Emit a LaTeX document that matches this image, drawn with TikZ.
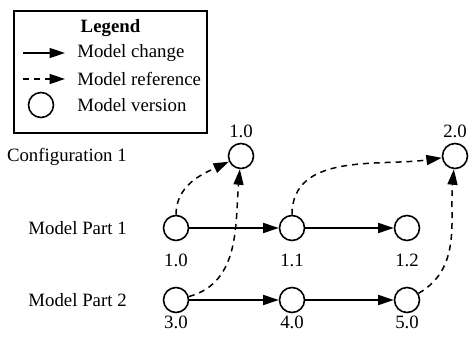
\documentclass[tikz,border=0pt]{standalone}
\usepackage{fontspec}
\setmainfont{Liberation Serif}
\usetikzlibrary{arrows.meta}

\tikzset{
  version/.style={draw, circle, line width=0.9pt, minimum size=0.5cm, inner sep=0pt},
  txt/.style={inner sep=0pt, font=\fontsize{10.7}{13}\selectfont},
  change/.style={line width=0.85pt, -{Triangle[length=0.31cm,width=0.2cm]}},
  reference/.style={change, dash pattern=on 3.4pt off 2.8pt},
}

\begin{document}
\begin{tikzpicture}

  \useasboundingbox (0,0) rectangle (9.38,6.78);

  % Legend.
  \node[draw, line width=0.8pt, minimum width=3.86cm, minimum height=2.44cm, inner sep=0pt] (legend) at (2.21,5.34) {};
  \node[txt, font=\fontsize{10.7}{13}\selectfont\bfseries] (legtitle) at (2.21,6.22) {Legend};
  \coordinate (chgA) at (0.46,5.72);
  \coordinate (chgB) at (1.30,5.72);
  \draw[change] (chgA) -- (chgB);
  \node[txt, anchor=west] (legchg) at (1.54,5.72) {Model change};
  \coordinate (refA) at (0.46,5.20);
  \coordinate (refB) at (1.30,5.20);
  \draw[reference] (refA) -- (refB);
  \node[txt, anchor=west] (legref) at (1.54,5.20) {Model reference};
  \node[version] (legver) at (0.82,4.68) {};
  \node[txt, anchor=west] (legvertxt) at (1.54,4.68) {Model version};

  % Row labels.
  \node[txt, anchor=east] (rowcfg) at (2.54,3.64) {Configuration 1};
  \node[txt, anchor=east] (rowpa) at (2.54,2.22) {Model Part 1};
  \node[txt, anchor=east] (rowpb) at (2.54,0.78) {Model Part 2};

  % Configuration versions.
  \node[version] (c10) at (4.82,3.66) {};
  \node[txt] (lc10) at (4.82,4.16) {1.0};
  \node[version] (c20) at (9.10,3.66) {};
  \node[txt] (lc20) at (9.10,4.16) {2.0};

  % Model Part 1.
  \node[version] (p10) at (3.52,2.22) {};
  \node[version] (p11) at (5.84,2.22) {};
  \node[version] (p12) at (8.14,2.22) {};
  \node[txt] (lp10) at (3.52,1.58) {1.0};
  \node[txt] (lp11) at (5.84,1.58) {1.1};
  \node[txt] (lp12) at (8.14,1.58) {1.2};
  \draw[change] (p10) -- (p11);
  \draw[change] (p11) -- (p12);

  % Model Part 2.
  \node[version] (q30) at (3.52,0.78) {};
  \node[version] (q40) at (5.84,0.78) {};
  \node[version] (q50) at (8.14,0.78) {};
  \node[txt] (lq30) at (3.52,0.34) {3.0};
  \node[txt] (lq40) at (5.84,0.34) {4.0};
  \node[txt] (lq50) at (8.14,0.34) {5.0};
  \draw[change] (q30) -- (q40);
  \draw[change] (q40) -- (q50);

  % References into the configurations.
  \draw[reference] (p10) to[out=90, in=205] (c10);
  \draw[reference] (q30) to[out=15, in=-95] (c10);
  \draw[reference] (p11) to[out=90, in=188] (c20);
  \draw[reference] (q50) to[out=30, in=-95] (c20);

\end{tikzpicture}
\end{document}
